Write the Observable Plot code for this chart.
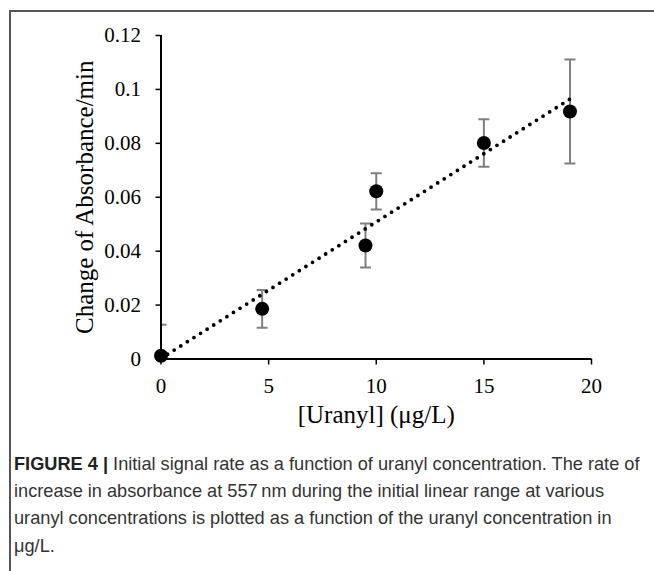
<!DOCTYPE html>
<html>
<head>
<meta charset="utf-8">
<script src="https://cdn.jsdelivr.net/npm/d3@7"></script>
<script src="https://cdn.jsdelivr.net/npm/@observablehq/plot@0.6"></script>
<style>
  body { margin: 0; background: #fff; }
  #wrap { position: relative; width: 654px; height: 571px; overflow: hidden; background: #fff; }
  #frame { position: absolute; left: 9px; top: 10px; width: 700px; height: 700px;
           border-top: 2px solid #555; border-left: 2px solid #555; }
  #chart { position: absolute; left: 0; top: 0; }
  #caption { position: absolute; left: 14px; top: 451px; font-family: "Liberation Sans", Arial, sans-serif;
             font-size: 18.2px; line-height: 27.2px; color: #333; white-space: nowrap; letter-spacing: 0px; }
  #caption b { color: #222; }
</style>
</head>
<body>
<div id="wrap">
  <div id="chart"></div>
  <div id="frame"></div>
  <div id="caption"></div>
</div>
<script>
const concentrations = [0, 4.7, 9.5, 10, 15, 19];
const rates = [0.0012, 0.0186, 0.0421, 0.0622, 0.0801, 0.0918];
const errors = [0.0115, 0.0070, 0.0082, 0.0067, 0.0088, 0.0193];
const xTicks = [0, 5, 10, 15, 20];
const yTicks = [0, 0.02, 0.04, 0.06, 0.08, 0.1, 0.12];
const xLabel = "[Uranyl] (μg/L)";
const yLabel = "Change of Absorbance/min";
const captionLines = [
  ["FIGURE 4 |", " Initial signal rate as a function of uranyl concentration. The rate of"],
  ["", "increase in absorbance at 557\u2009nm during the initial linear range at various"],
  ["", "uranyl concentrations is plotted as a function of the uranyl concentration in"],
  ["", "μg/L."]
];

const data = concentrations.map((x, i) => ({x, y: rates[i], err: errors[i]}));

const capSymbol = {
  draw(context, size) {
    const w = Math.sqrt(size / Math.PI);
    context.moveTo(-w, 0);
    context.lineTo(w, 0);
  }
};

const grey = "#808080";

const chart = Plot.plot({
  width: 654,
  height: 440,
  marginLeft: 160.5,
  marginRight: 63,
  marginTop: 35,
  marginBottom: 81.5,
  style: {background: "transparent", fontFamily: "'Liberation Serif', 'Times New Roman', serif", fontSize: "21px", color: "#000", overflow: "visible"},
  x: {domain: [0, 20], ticks: xTicks},
  y: {domain: [0, 0.12], ticks: yTicks},
  marks: [
    Plot.ruleX(data, {x: "x", y1: d => d.y - d.err, y2: d => d.y + d.err, stroke: grey, strokeWidth: 2, clip: true}),
    Plot.dot(data, {x: "x", y: d => d.y + d.err, symbol: capSymbol, r: 5.5, stroke: grey, strokeWidth: 2, fill: "none", clip: true}),
    Plot.dot(data, {x: "x", y: d => d.y - d.err, symbol: capSymbol, r: 5.5, stroke: grey, strokeWidth: 2, fill: "none", clip: true}),
    Plot.axisX({ticks: xTicks, tickSize: 6, tickPadding: 13, tickFormat: d => String(d), label: null, stroke: "#000", strokeWidth: 1.5, fontSize: 21}),
    Plot.axisY({ticks: yTicks, tickSize: 5, tickPadding: 15, tickFormat: d => String(d), label: null, stroke: "#000", strokeWidth: 1.5, fontSize: 21}),
    Plot.ruleX([0], {stroke: "#000", strokeWidth: 2}),
    Plot.ruleY([0], {stroke: "#000", strokeWidth: 2}),
    Plot.linearRegressionY(data, {x: "x", y: "y", ci: 0, stroke: "#000", strokeWidth: 3.8, strokeDasharray: "0,7.8", strokeLinecap: "round"}),
    Plot.dot(data, {x: "x", y: "y", r: 7, fill: "#000", stroke: "none"}),
    Plot.text([xLabel], {text: d => d, frameAnchor: "bottom", dy: 56, fontSize: 25, fill: "#000", lineAnchor: "middle"}),
    Plot.text([yLabel], {text: d => d, frameAnchor: "left", dx: -76, rotate: -90, fontSize: 25, fill: "#000", lineAnchor: "middle", textAnchor: "middle"})
  ]
});
document.getElementById("chart").appendChild(chart);

const cap = document.getElementById("caption");
captionLines.forEach(([bold, rest], i) => {
  const line = document.createElement("div");
  if (bold) {
    const b = document.createElement("b");
    b.textContent = bold;
    line.appendChild(b);
  }
  line.appendChild(document.createTextNode(rest));
  cap.appendChild(line);
});
</script>
</body>
</html>
